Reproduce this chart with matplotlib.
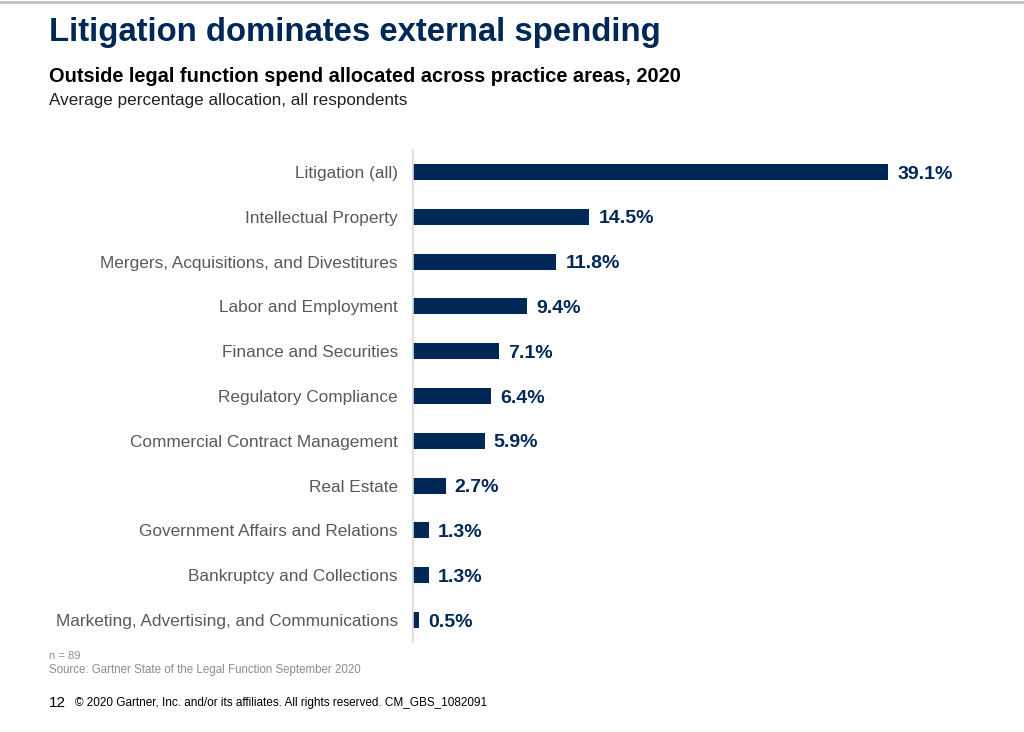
import matplotlib.pyplot as plt

# data
categories = [
    "Litigation (all)",
    "Intellectual Property",
    "Mergers, Acquisitions, and Divestitures",
    "Labor and Employment",
    "Finance and Securities",
    "Regulatory Compliance",
    "Commercial Contract Management",
    "Real Estate",
    "Government Affairs and Relations",
    "Bankruptcy and Collections",
    "Marketing, Advertising, and Communications",
]
values = [39.1, 14.5, 11.8, 9.4, 7.1, 6.4, 5.9, 2.7, 1.3, 1.3, 0.5]
value_labels = ["39.1%", "14.5%", "11.8%", "9.4%", "7.1%", "6.4%", "5.9%",
                "2.7%", "1.3%", "1.3%", "0.5%"]

NAVY = "#002856"
plt.rcParams['font.family'] = ['Liberation Sans', 'DejaVu Sans']

fig = plt.figure(figsize=(10.24, 7.32), dpi=100)
ax = fig.add_axes([0.4033, 0.1224, 0.5342, 0.6732])

y = list(range(len(categories)))
ax.barh(y, values, height=0.36, color=NAVY)
for yi, v, lab in zip(y, values, value_labels):
    # small downward nudge so the digits sit centred on the bar
    ax.annotate(lab, (v, yi), xytext=(6.5, -1.5), textcoords='offset points',
                va='center', ha='left', fontsize=14, fontweight='bold',
                color=NAVY)

ax.set_xlim(0, 45)
ax.set_ylim(len(categories) - 0.5, -0.5)
ax.set_yticks(y)
ax.set_yticklabels(categories, fontsize=12.4, color='#595959')
ax.tick_params(axis='y', length=0, pad=11)
ax.set_xticks([])
for s in ['top', 'right', 'bottom']:
    ax.spines[s].set_visible(False)
ax.spines['left'].set_color('#d9d9d9')
ax.spines['left'].set_linewidth(1.2)

# header text
fig.text(49 / 1024, 1 - 33 / 732, "Litigation dominates external spending",
         fontsize=23.7, fontweight='bold', color=NAVY, va='center', ha='left')
fig.text(49 / 1024, 1 - 76 / 732,
         "Outside legal function spend allocated across practice areas, 2020",
         fontsize=14.4, fontweight='bold', color='black', va='center', ha='left')
fig.text(49 / 1024, 1 - 100 / 732, "Average percentage allocation, all respondents",
         fontsize=12.3, color='#222222', va='center', ha='left')

# footer text
fig.text(49 / 1024, 1 - 656 / 732, "n = 89", fontsize=8, color='#8c8c8c',
         va='center', ha='left')
fig.text(49 / 1024, 1 - 670 / 732, "Source: Gartner State of the Legal Function September 2020",
         fontsize=8.3, color='#8c8c8c', va='center', ha='left')
fig.text(49 / 1024, 1 - 703 / 732, "12", fontsize=11, color='black',
         va='center', ha='left')
fig.text(75 / 1024, 1 - 703 / 732,
         "\u00a9 2020 Gartner, Inc. and/or its affiliates. All rights reserved. CM_GBS_1082091",
         fontsize=8.5, color='black', va='center', ha='left')

# thin grey shadow line at the top of the slide
fig.add_artist(plt.Line2D([0, 1], [0.997, 0.997], color='#bfbfbf', lw=2,
                          transform=fig.transFigure))

fig.savefig('out.png', dpi=100)
